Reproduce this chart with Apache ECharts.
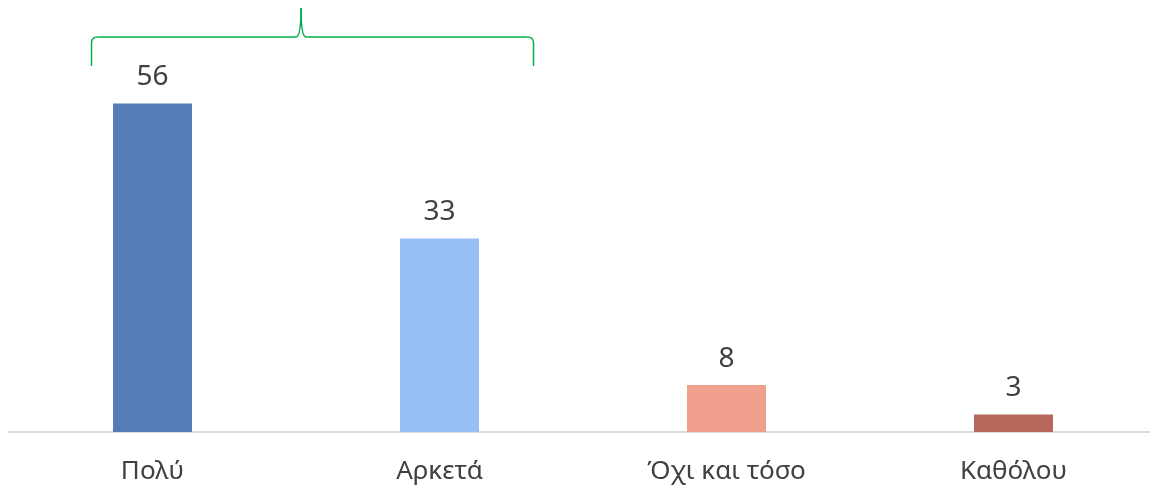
<!DOCTYPE html>
<html>
<head>
<meta charset="utf-8">
<script src="https://cdn.jsdelivr.net/npm/echarts@6/dist/echarts.min.js"></script>
<style>
  html, body { margin: 0; padding: 0; background: #fff; overflow: hidden; }
  #chart { width: 1160px; height: 489px; }
</style>
</head>
<body>
<div id="chart"></div>
<script>
const categories = ['Πολύ', 'Αρκετά', 'Όχι και τόσο', 'Καθόλου']
const values = [56, 33, 8, 3]
const barColors = ['#547DB5', '#97BEF5', '#F19F8E', '#B6675A']

const chart = echarts.init(document.getElementById('chart'))

const option = {
  animation: false,
  textStyle: { fontFamily: 'Noto Sans' },
  grid: { left: 9, right: 3, top: 80, bottom: 57 },
  xAxis: {
    type: 'category',
    data: categories,
    axisLine: { lineStyle: { color: '#D9D9D9', width: 2 } },
    axisTick: { show: false },
    axisLabel: { color: '#404040', fontSize: 26, margin: 27 }
  },
  yAxis: {
    type: 'value',
    min: 0,
    max: 60,
    show: false,
    splitLine: { show: false }
  },
  series: [
    {
      type: 'bar',
      barWidth: 79,
      data: values.map((v, i) => ({ value: v, itemStyle: { color: barColors[i] } })),
      label: {
        show: true,
        position: 'top',
        distance: 12,
        color: '#404040',
        fontSize: 28
      }
    }
  ]
}
chart.setOption(option)

// brace over the first two bars
const p0 = chart.convertToPixel({ xAxisIndex: 0 }, categories[0])
const p1 = chart.convertToPixel({ xAxisIndex: 0 }, categories[1])
const x0 = p0 - 61
const x1 = p1 + 94
const xm = (p0 + p1) / 2 + 5
const yb = 66
const yl = 37
const yt = 8
const r = 6
const braceStyle = { fill: null, stroke: '#00B050', lineWidth: 1.5 }
chart.setOption({
  graphic: [
    { type: 'line', shape: { x1: x0, y1: yb, x2: x0, y2: yl + r }, style: braceStyle },
    { type: 'bezierCurve', shape: { x1: x0, y1: yl + r, cpx1: x0, cpy1: yl, x2: x0 + r, y2: yl }, style: braceStyle },
    { type: 'line', shape: { x1: x0 + r, y1: yl, x2: xm - 5, y2: yl }, style: braceStyle },
    { type: 'bezierCurve', shape: { x1: xm - 5, y1: yl, cpx1: xm, cpy1: yl, x2: xm, y2: yt }, style: braceStyle },
    { type: 'bezierCurve', shape: { x1: xm, y1: yt, cpx1: xm, cpy1: yl, x2: xm + 5, y2: yl }, style: braceStyle },
    { type: 'line', shape: { x1: xm + 5, y1: yl, x2: x1 - r, y2: yl }, style: braceStyle },
    { type: 'bezierCurve', shape: { x1: x1 - r, y1: yl, cpx1: x1, cpy1: yl, x2: x1, y2: yl + r }, style: braceStyle },
    { type: 'line', shape: { x1: x1, y1: yl + r, x2: x1, y2: yb }, style: braceStyle }
  ]
})
</script>
</body>
</html>
